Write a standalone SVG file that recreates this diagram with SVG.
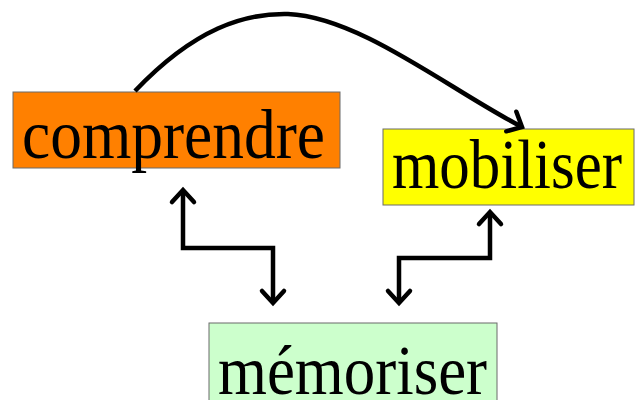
<svg xmlns="http://www.w3.org/2000/svg" width="635" height="400" viewBox="0 0 635 400">
<style>
.box{stroke:#6b6b6b;stroke-width:1}
.lbl{font-family:"Liberation Serif","DejaVu Serif",serif;font-size:69px;fill:#000}
.con{fill:none;stroke:#000;stroke-width:4.5;stroke-linejoin:miter}
</style>
<defs>
<marker id="chev" markerUnits="userSpaceOnUse" markerWidth="30" markerHeight="30" viewBox="-16 -15 20 30" refX="0" refY="0" orient="auto-start-reverse">
<path d="M-12,-11 L0,0 L-12,11" fill="none" stroke="#000" stroke-width="4.5" stroke-linecap="round" stroke-linejoin="miter"/>
</marker>
</defs>
<g id="comprendre">
<rect class="box" x="13" y="92" width="327" height="76" fill="#FF8000"/>
<text class="lbl" x="22" y="158" textLength="303" lengthAdjust="spacingAndGlyphs">comprendre</text>
</g>
<g id="mobiliser">
<rect class="box" x="383" y="129" width="251" height="76" fill="#FFFF00"/>
<text class="lbl" x="392" y="188" textLength="230" lengthAdjust="spacingAndGlyphs">mobiliser</text>
</g>
<g id="memoriser">
<rect class="box" x="209" y="323" width="288" height="90" fill="#CCFFCC"/>
<text class="lbl" x="218" y="394" textLength="269" lengthAdjust="spacingAndGlyphs">mémoriser</text>
</g>
<g id="connectors">
<path class="con" d="M135,91 C195,28 245,13 288,14 C360,17 450,90 522,127" marker-end="url(#chev)"/>
<path class="con" d="M183,190 V248 H273 V303" marker-start="url(#chev)" marker-end="url(#chev)"/>
<path class="con" d="M399,303 V258 H490 V212" marker-start="url(#chev)" marker-end="url(#chev)"/>
</g>
</svg>
